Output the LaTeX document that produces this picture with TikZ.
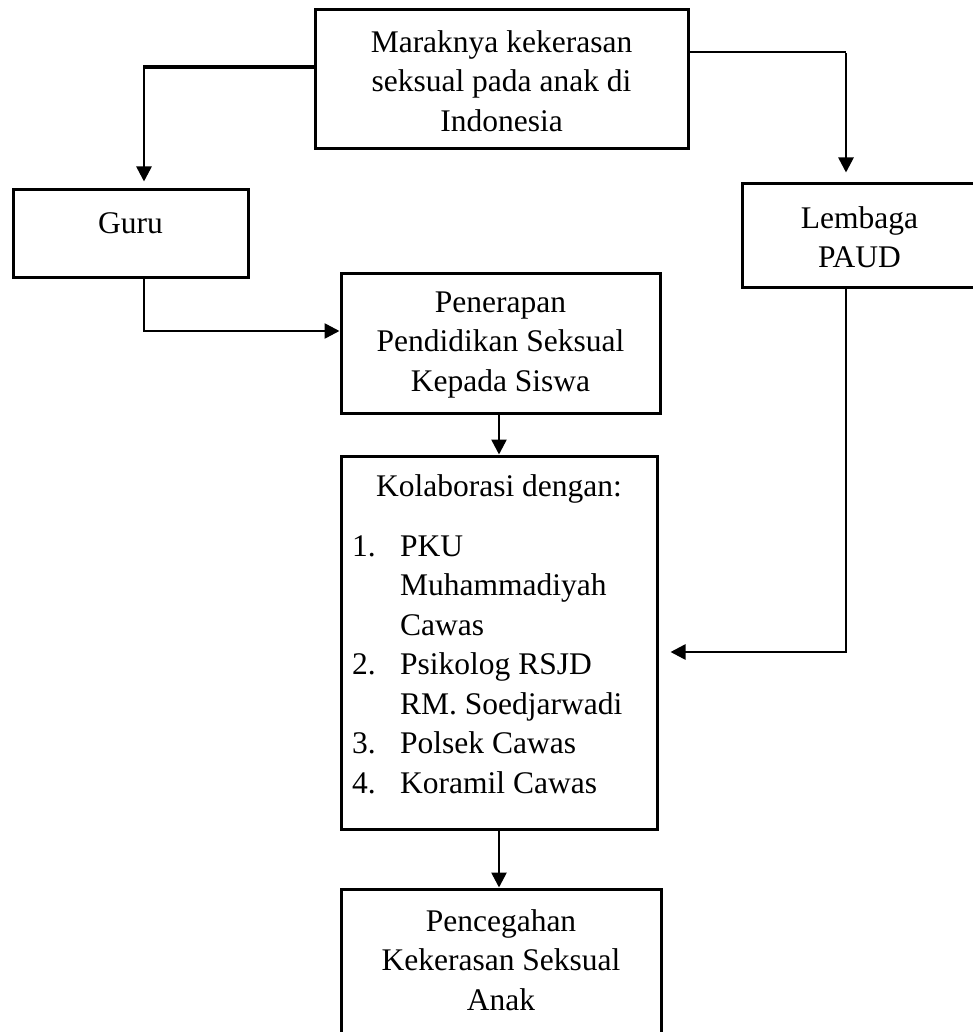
\documentclass[tikz,border=0pt]{standalone}
\usepackage{fontspec}
\setmainfont{Liberation Serif}
\usetikzlibrary{arrows.meta}
\begin{document}
\begin{tikzpicture}[x=1pt,y=-1pt,
  box/.style={draw,line width=3pt,inner sep=0pt},
  txt/.style={align=center,inner sep=0pt,font=\fontsize{31.5}{39.5}\selectfont},
  ltxt/.style={anchor=base west,inner sep=0pt,font=\fontsize{31.5}{39.5}\selectfont},
  conn/.style={line width=2.6pt},
  arr/.style={conn,-{Triangle[length=15pt,width=15pt]}}]
\useasboundingbox (0,0) rectangle (973,1032);
% boxes
\node[box,minimum width=373,minimum height=139] (top) at (501.5,79.5) {};
\node[box,minimum width=235,minimum height=87] (guru) at (130.5,233.5) {};
\node[box,minimum width=235,minimum height=103] (paud) at (859.5,235.5) {};
\node[box,minimum width=319,minimum height=140] (pen) at (500.5,343) {};
\node[box,minimum width=316,minimum height=373] (kol) at (499,642.5) {};
\node[box,minimum width=320,minimum height=156] (pc) at (501,967) {};
% texts
\node[txt] (ttop) at (501.5,81) {Maraknya kekerasan\\seksual pada anak di\\Indonesia};
\node[txt] (tguru) at (130.5,223) {Guru};
\node[txt] (tpaud) at (859.5,237) {Lembaga\\PAUD};
\node[txt] (tpen) at (500.5,345) {Penerapan\\Pendidikan Seksual\\Kepada Siswa};
\node[txt] (tkol) at (499,489) {Kolaborasi dengan:};
\node[ltxt] (n1) at (352,556) {1.};
\node[ltxt] (i1) at (400,556) {PKU};
\node[ltxt] (i1b) at (400,595.5) {Muhammadiyah};
\node[ltxt] (i1c) at (400,635) {Cawas};
\node[ltxt] (n2) at (352,674.5) {2.};
\node[ltxt] (i2) at (400,674.5) {Psikolog RSJD};
\node[ltxt] (i2b) at (400,714) {RM. Soedjarwadi};
\node[ltxt] (n3) at (352,753.5) {3.};
\node[ltxt] (i3) at (400,753.5) {Polsek Cawas};
\node[ltxt] (n4) at (352,793) {4.};
\node[ltxt] (i4) at (400,793) {Koramil Cawas};
\node[txt] (tpc) at (501,960) {Pencegahan\\Kekerasan Seksual\\Anak};
% connectors
\coordinate (lt) at (144,67);
\coordinate (rt) at (846,52);
\coordinate (gb) at (144,331);
\coordinate (pb) at (846,652);
\draw[line width=4pt] (top.west |- lt) -- ([xshift=-1.3pt]lt);
\draw[arr,shorten >=7pt] ([yshift=-2pt]lt) -- (lt |- guru.north);
\draw[conn] (top.east |- rt) -- (rt);
\draw[arr,shorten >=10pt] ([yshift=-1.3pt]rt) -- (rt |- paud.north);
\draw[arr] (gb |- guru.south) |- (pen.west |- gb);
\draw[arr] (pen.south -| tkol) -- (kol.north -| tkol);
\draw[arr] (kol.south -| tkol) -- (pc.north -| tkol);
\draw[arr,shorten >=12pt] (pb |- paud.south) |- (kol.east |- pb);
\end{tikzpicture}
\end{document}
